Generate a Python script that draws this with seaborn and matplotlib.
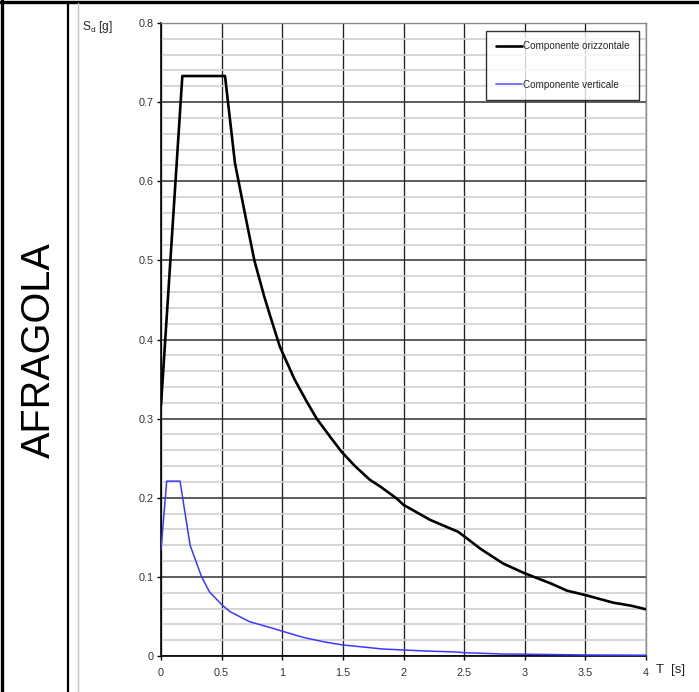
import matplotlib
matplotlib.use("Agg")
import matplotlib.pyplot as plt
from matplotlib.lines import Line2D
from matplotlib.ticker import NullLocator, FixedLocator
import numpy as np
import pandas as pd
import seaborn as sns

# ---- data ----
t_horiz = [0.0, 0.176, 0.528, 0.61, 0.70, 0.77, 0.85, 0.90, 0.98, 1.10, 1.20, 1.284, 1.40, 1.49,
           1.60, 1.72, 1.81, 1.944, 2.0, 2.22, 2.45, 2.52, 2.63, 2.82, 3.0, 3.21, 3.35, 3.5, 3.73,
           3.88, 4.0]
sd_horiz = [0.317, 0.733, 0.733, 0.623, 0.553, 0.500, 0.455, 0.430, 0.391, 0.350, 0.322, 0.300,
            0.276, 0.258, 0.240, 0.223, 0.214, 0.199, 0.191, 0.172, 0.157, 0.149, 0.136, 0.117,
            0.1045, 0.092, 0.0825, 0.077, 0.0674, 0.0635, 0.059]
t_vert = [0.0, 0.047, 0.157, 0.24, 0.335, 0.40, 0.50, 0.57, 0.73, 0.90, 0.995, 1.17, 1.34, 1.50,
          1.64, 1.83, 2.0, 2.19, 2.44, 2.5, 2.82, 3.0, 3.5, 4.0]
sd_vert = [0.134, 0.221, 0.221, 0.140, 0.100, 0.081, 0.065, 0.056, 0.0434, 0.036, 0.0316, 0.0236,
           0.018, 0.0139, 0.0118, 0.0088, 0.0076, 0.0063, 0.0050, 0.0042, 0.0025, 0.0023, 0.0013, 0.0010]
series_names = ["Componente orizzontale", "Componente verticale"]
x_ticks = [0, 0.5, 1, 1.5, 2, 2.5, 3, 3.5, 4]
x_tick_labels = ["0", "0.5", "1", "1.5", "2", "2.5", "3", "3.5", "4"]
y_ticks = [0, 0.1, 0.2, 0.3, 0.4, 0.5, 0.6, 0.7, 0.8]
y_tick_labels = ["0", "0.1", "0.2", "0.3", "0.4", "0.5", "0.6", "0.7", "0.8"]
site_name = "AFRAGOLA"

df = pd.DataFrame({
    "T": t_horiz + t_vert,
    "Sd": sd_horiz + sd_vert,
    "comp": [series_names[0]] * len(t_horiz) + [series_names[1]] * len(t_vert),
})

sns.set_style("white")
plt.rcParams["font.family"] = ["Liberation Sans", "DejaVu Sans"]

W, H = 699, 692
fig = plt.figure(figsize=(W / 100, H / 100), dpi=100)
ax = fig.add_axes([161 / W, (H - 656) / H, (646 - 161) / W, (656 - 23) / H])

palette = {series_names[0]: "#000000", series_names[1]: "#3a3aff"}
sns.lineplot(data=df, x="T", y="Sd", hue="comp", palette=palette, ax=ax,
             estimator=None, sort=False, legend=False, zorder=5)
lines = ax.get_lines()
lines[0].set_linewidth(1.9)
lines[1].set_linewidth(1.1)
for ln in lines:
    ln.set_solid_joinstyle("round")

ax.set_xlim(0, 4)
ax.set_ylim(0, 0.8)
ax.xaxis.set_major_locator(FixedLocator(x_ticks))
ax.set_xticklabels(x_tick_labels)
ax.xaxis.set_minor_locator(NullLocator())
ax.yaxis.set_major_locator(FixedLocator(y_ticks))
ax.set_yticklabels(y_tick_labels)
ax.yaxis.set_minor_locator(FixedLocator(list(np.round(np.arange(0, 0.8001, 0.02), 4))))
ax.set_xlabel("")
ax.set_ylabel("")

ax.grid(False)
ax.grid(which="minor", axis="y", color="#cfcfcf", lw=1.2, zorder=0)
ax.grid(which="major", axis="y", color="#303030", lw=1.1, zorder=1)
ax.grid(which="major", axis="x", color="#202020", lw=0.95, zorder=1)
ax.set_axisbelow(True)

ax.tick_params(which="minor", length=0)
ax.tick_params(which="major", direction="out", length=3, width=1, color="#000000",
               labelsize=7.8, labelcolor="#333333", pad=2)
ax.tick_params(axis="x", pad=6)
ax.tick_params(left=True, bottom=True)

for s in ["left", "bottom"]:
    ax.spines[s].set_color("#000000")
    ax.spines[s].set_linewidth(1.2)
for s in ["top", "right"]:
    ax.spines[s].set_color("#8a8a8a")
    ax.spines[s].set_linewidth(1.0)

handles = [Line2D([], [], color="#000000", lw=1.9), Line2D([], [], color="#6a6aff", lw=1.3)]
leg = ax.legend(handles, series_names, loc="upper right", bbox_to_anchor=(0.986, 0.987),
                fontsize=7.1, frameon=True, fancybox=False, handlelength=2.7, handletextpad=0.05,
                labelspacing=2.9, borderpad=1.0, borderaxespad=0)
leg.get_frame().set_edgecolor("#000000")
leg.get_frame().set_linewidth(1.0)
leg.set_zorder(10)

# axis titles
fig.text(82 / W, 1 - 27 / H, r"S$_\mathregular{d}$ [g]", fontsize=8.6, color="#222222",
         ha="left", va="center")
fig.text(656 / W, 1 - 670 / H, "T  [s]", fontsize=9.5, color="#222222", ha="left", va="center")

# site name
fig.text(39 / W, 1 - 350 / H, site_name, fontsize=28.5, rotation=90, ha="center", va="center",
         color="#000000")

# frame lines
fig.add_artist(Line2D([0, 1], [1 - 1.5 / H, 1 - 1.5 / H], transform=fig.transFigure,
                      color="black", lw=2.4))
fig.add_artist(Line2D([1.5 / W, 1.5 / W], [0, 1], transform=fig.transFigure, color="black", lw=2.4))
fig.add_artist(Line2D([68.3 / W, 68.3 / W], [0, 1 - 1.5 / H], transform=fig.transFigure,
                      color="black", lw=1.6))
fig.add_artist(Line2D([78.3 / W, 78.3 / W], [0, 1 - 3 / H], transform=fig.transFigure,
                      color="#c4c4c4", lw=1.0))

fig.savefig("out.png", dpi=100)
